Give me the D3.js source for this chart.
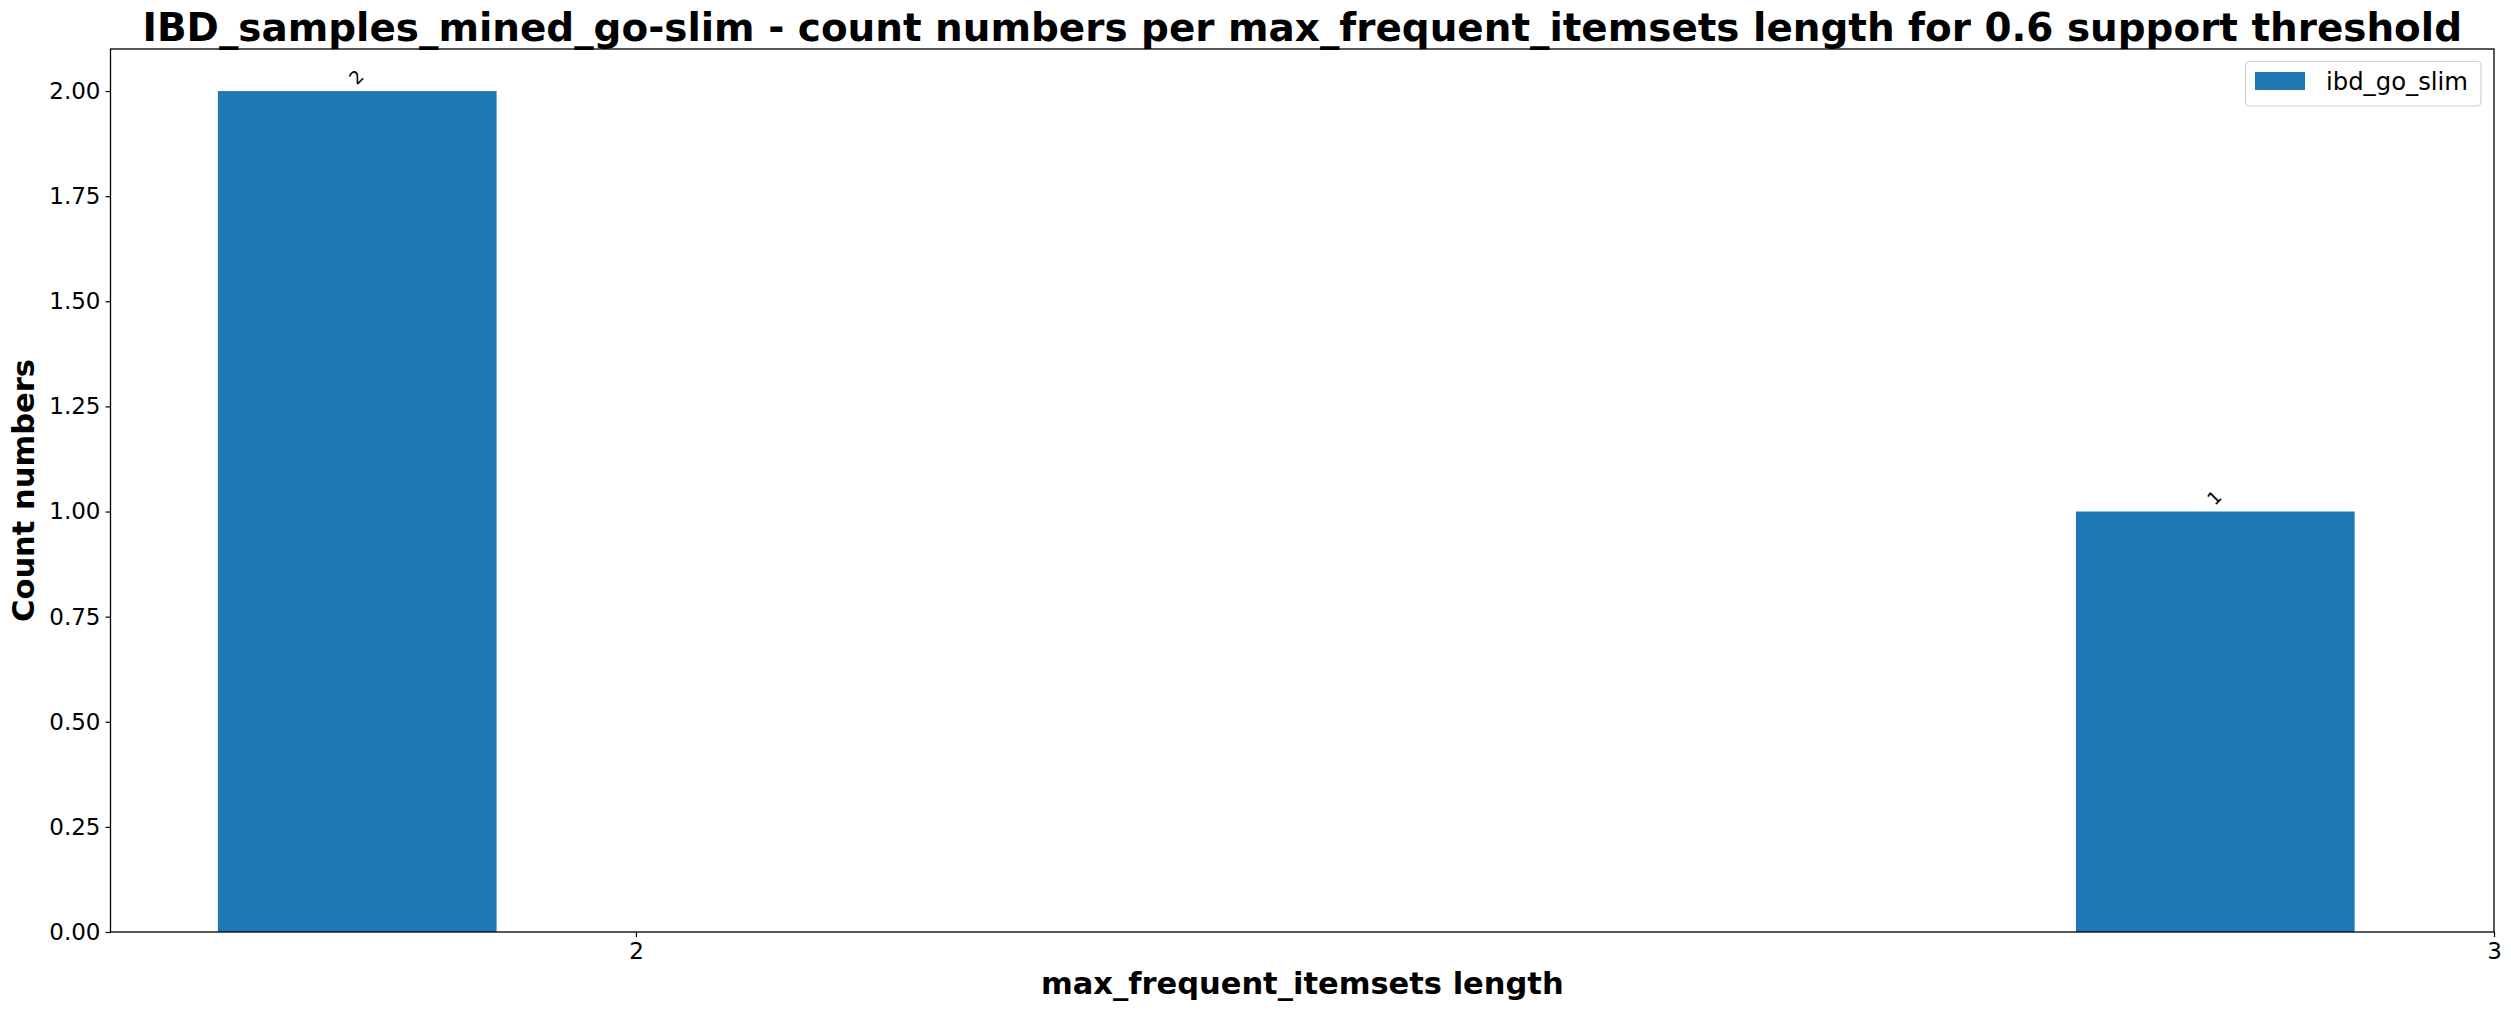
<!DOCTYPE html>
<html><head><meta charset="utf-8">
<script src="https://cdn.jsdelivr.net/npm/d3@7"></script>
<style>
html,body{margin:0;padding:0;background:#fff;}
text{font-family:"DejaVu Sans",sans-serif;fill:#000;}
</style></head>
<body>
<script>
const categories = [2, 3];
const seriesName = "ibd_go_slim";
const seriesValues = [2, 1];
const yTicks = [0, 0.25, 0.5, 0.75, 1.0, 1.25, 1.5, 1.75, 2.0];
const xTicks = [2, 3];
const titleText = "IBD_samples_mined_go-slim - count numbers per max_frequent_itemsets length for 0.6 support threshold";

const W = 2511, H = 1011;
const L = 110.5, R = 2494, T = 49, B = 932;
const barOffset = -0.15, barWidth = 0.15;

const svg = d3.select("body").append("svg").attr("width", W).attr("height", H);

const x = d3.scaleLinear().domain([1.7172, 3.0]).range([L, R]);
const y = d3.scaleLinear().domain([0, 2.1]).range([B, T]);

// bars
svg.append("g").selectAll("rect").data(categories).join("rect")
  .attr("x", (d) => x(d + barOffset - barWidth / 2))
  .attr("width", (d) => x(d + barOffset + barWidth / 2) - x(d + barOffset - barWidth / 2))
  .attr("y", (d, i) => y(seriesValues[i]))
  .attr("height", (d, i) => B - y(seriesValues[i]))
  .attr("fill", "#1f77b4");

// value labels
svg.append("g").selectAll("text").data(categories).join("text")
  .attr("transform", (d, i) => `translate(${x(d + barOffset) - 1},${y(seriesValues[i]) - 14}) rotate(-45)`)
  .attr("text-anchor", "middle")
  .attr("dominant-baseline", "central")
  .style("font-size", "18px")
  .text((d, i) => seriesValues[i]);

// axes
const xAxis = d3.axisBottom(x).tickValues(xTicks).tickFormat(d3.format("d")).tickSize(5).tickPadding(6);
const gx = svg.append("g").attr("transform", `translate(0,${B})`).call(xAxis);
const yAxis = d3.axisLeft(y).tickValues(yTicks).tickFormat(d3.format(".2f")).tickSize(5).tickPadding(5);
const gy = svg.append("g").attr("transform", `translate(${L},0)`).call(yAxis);
[gx, gy].forEach(g => {
  g.select(".domain").remove();
  g.selectAll(".tick line").attr("stroke", "#000").attr("stroke-width", 1.2);
  g.selectAll(".tick text").style("font-size", "23px").style("font-family", "DejaVu Sans");
});

// spines
svg.append("rect").attr("x", L).attr("y", T).attr("width", R - L).attr("height", B - T)
  .attr("fill", "none").attr("stroke", "#000").attr("stroke-width", 1.3);

// title
svg.append("text").attr("x", (L + R) / 2).attr("y", 41).attr("text-anchor", "middle")
  .style("font-size", "38.9px").style("font-weight", "bold").text(titleText);

// axis labels
svg.append("text").attr("x", (L + R) / 2).attr("y", 994).attr("text-anchor", "middle")
  .style("font-size", "30.5px").style("font-weight", "bold").text("max_frequent_itemsets length");
svg.append("text").attr("transform", `translate(34,${(T + B) / 2}) rotate(-90)`).attr("text-anchor", "middle")
  .style("font-size", "30.5px").style("font-weight", "bold").text("Count numbers");

// legend
const lg = svg.append("g");
lg.append("rect").attr("x", 2245.5).attr("y", 61.5).attr("width", 235.5).attr("height", 44.5)
  .attr("rx", 4).attr("fill", "#fff").attr("fill-opacity", 0.8).attr("stroke", "#d0d0d0").attr("stroke-width", 1.2);
lg.append("rect").attr("x", 2255).attr("y", 72).attr("width", 50).attr("height", 18).attr("fill", "#1f77b4");
lg.append("text").attr("x", 2326).attr("y", 90).style("font-size", "24.3px").text(seriesName);
</script>
</body></html>
